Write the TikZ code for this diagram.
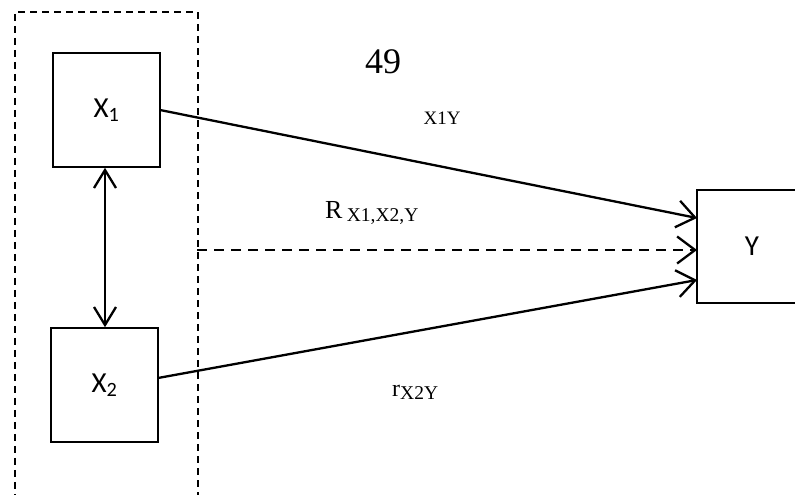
\documentclass[tikz,border=0pt]{standalone}
\usepackage{fontspec}
\setmainfont{Liberation Serif}
\newfontfamily\boxfont{Carlito}
\usetikzlibrary{arrows.meta}
\begin{document}
\begin{tikzpicture}[x=1pt,y=-1pt,
  box/.style={draw, line width=1.6pt, rectangle, inner sep=0pt, font=\boxfont\fontsize{29}{34}\selectfont},
  groupbox/.style={draw, line width=1.8pt, dash pattern=on 7pt off 5pt, rectangle, inner sep=0pt, anchor=north west},
  conn/.style={line width=2.3pt, -{Straight Barb[length=18pt,width=27pt,line width=2.3pt]}},
  dbl/.style={line width=2.3pt, {Straight Barb[length=18pt,width=22pt,line width=2.3pt]}-{Straight Barb[length=18pt,width=22pt,line width=2.3pt]}},
  lbl/.style={inner sep=0pt}]
\useasboundingbox (0,0) rectangle (795,495);
\clip (0,0) rectangle (795,495);
\node[groupbox, minimum width=183pt, minimum height=520pt] (grp) at (14,11) {};
\node[box, minimum width=107pt, minimum height=114pt] (x1) at (106.5,110) {X\textsubscript{1}};
\node[box, minimum width=107pt, minimum height=114pt] (x2) at (104.5,385) {X\textsubscript{2}};
\node[box, minimum width=110pt, minimum height=113pt] (y) at (752,246.5) {Y};
\coordinate (ya) at (697,218);
\coordinate (yb) at (697,250);
\coordinate (yc) at (697,280);
\coordinate (d) at (197,250);
\coordinate (x1e) at (160,110);
\coordinate (x2e) at (158,378);
\draw[conn] (x1e) -- (ya);
\draw[conn, dash pattern=on 10pt off 7pt] (d) -- (yb);
\draw[conn] (x2e) -- (yc);
\draw[dbl] (x1.south -| 105,0) -- (x2.north -| 105,0);
\node[lbl, font=\fontsize{36}{40}\selectfont] (n49) at (383,62) {49};
\node[lbl, font=\fontsize{19}{22}\selectfont] (lx1y) at (442,118) {X1Y};
\node[lbl, anchor=base west] (lr) at (325,218) {\fontsize{26}{30}\selectfont R\,\raisebox{-3pt}{\fontsize{19.5}{22}\selectfont X1,X2,Y}};
\node[lbl, anchor=base west] (lrx) at (392,396) {\fontsize{24}{28}\selectfont r\raisebox{-3pt}{\fontsize{19.5}{22}\selectfont X2Y}};
\end{tikzpicture}
\end{document}
